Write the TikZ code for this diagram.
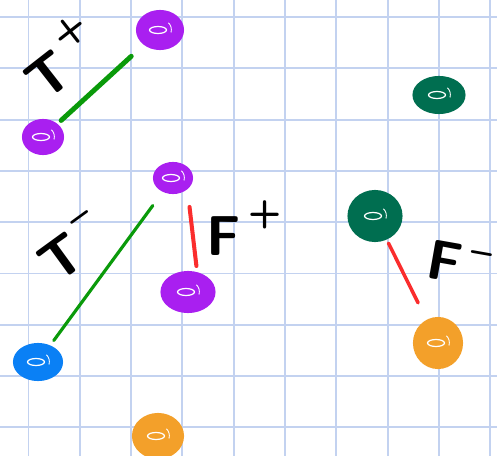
\documentclass[tikz,border=0pt]{standalone}
\usepackage{tikz}
\usetikzlibrary{shapes.geometric}
\definecolor{grid-blue}{HTML}{C3D2F0}
\definecolor{dot-purple}{HTML}{A91FF0}
\definecolor{dot-teal}{HTML}{006E50}
\definecolor{dot-blue}{HTML}{0A80F5}
\definecolor{dot-orange}{HTML}{F3A02A}
\definecolor{pair-green}{HTML}{0A9A0A}
\definecolor{pair-red}{HTML}{FA2D2D}
\newcommand{\handsup}[2][0.55em]{\kern0.12em\raisebox{#1}{\fontsize{22}{22}\selectfont #2}}
\tikzset{
    gridline/.style={grid-blue, line width=1.1pt},
    blob/.style={ellipse, draw=#1, fill=#1, line width=1.2pt, inner sep=0pt,
        path picture={
            \draw[white, line width=0.7pt]
                ([xshift=-0.04cm]path picture bounding box.center) ellipse (0.17cm and 0.07cm);
            \draw[white, line width=0.5pt]
                ([shift={(0.22cm,-0.05cm)}]path picture bounding box.center) arc (-20:60:0.12cm and 0.16cm);}},
    pairline/.style={line cap=round, line width=#1},
    hand/.style={font=\sffamily\bfseries\fontsize{32}{32}\selectfont, inner sep=0pt}
}

\begin{document}
\begin{tikzpicture}[x=0.02cm, y=-0.02cm]
    \useasboundingbox (0,0) rectangle (497,456);
    \clip (0,0) rectangle (497,456);
    % Grid paper
    \fill[white] (0,0) rectangle (497,456);
    \foreach \i in {0,...,9}
        \draw[gridline] (28.5+51.3*\i,0) -- (28.5+51.3*\i,456);
    \foreach \j in {0,...,8}
        \draw[gridline] (0,17+51.3*\j) -- (497,17+51.3*\j);
    % Points
    \node[blob=dot-purple, minimum width=0.92cm, minimum height=0.76cm] (ptop) at (160,30) {};
    \node[blob=dot-purple, minimum width=0.80cm, minimum height=0.68cm] (pleft) at (43,137) {};
    \node[blob=dot-purple, minimum width=0.76cm, minimum height=0.60cm] (pmid) at (173,178) {};
    \node[blob=dot-purple, minimum width=1.06cm, minimum height=0.80cm] (plow) at (188,292) {};
    \node[blob=dot-blue, minimum width=0.96cm, minimum height=0.72cm] (bleft) at (38,362) {};
    \node[blob=dot-orange, minimum width=1.00cm, minimum height=0.88cm] (obot) at (158,436) {};
    \node[blob=dot-teal, minimum width=1.02cm, minimum height=0.72cm] (gtop) at (439,95) {};
    \node[blob=dot-teal, minimum width=1.06cm, minimum height=1.00cm] (gmid) at (375,216) {};
    \node[blob=dot-orange, minimum width=0.96cm, minimum height=1.00cm] (oright) at (438,343) {};
    % True pairs
    \draw[pair-green, pairline=2.8pt, shorten <=0.1cm, shorten >=0.34cm] (pleft) -- (ptop);
    \draw[pair-green, pairline=1.8pt, shorten <=0.12cm, shorten >=0.34cm] (bleft) -- (pmid);
    % False pairs
    \draw[pair-red, pairline=2.3pt, shorten <=0.26cm, shorten >=0.1cm]
        ([xshift=0.3cm]pmid.south) -- ([xshift=0.18cm]plow.north);
    \draw[pair-red, pairline=2pt, shorten <=0.08cm, shorten >=0.38cm] (gmid) -- (oright);
    % Labels
    \node[hand, rotate=38] (tplus) at (60,57) {T\handsup{+}};
    \node[hand, rotate=36] (tminus) at (72,248) {T\handsup{--}};
    \node[hand] (fplus) at (244,228) {F\handsup{+}};
    \node[hand, rotate=-10, anchor=west] (fminus) at (428,258) {F\handsup[0.4em]{--}};
\end{tikzpicture}
\end{document}
